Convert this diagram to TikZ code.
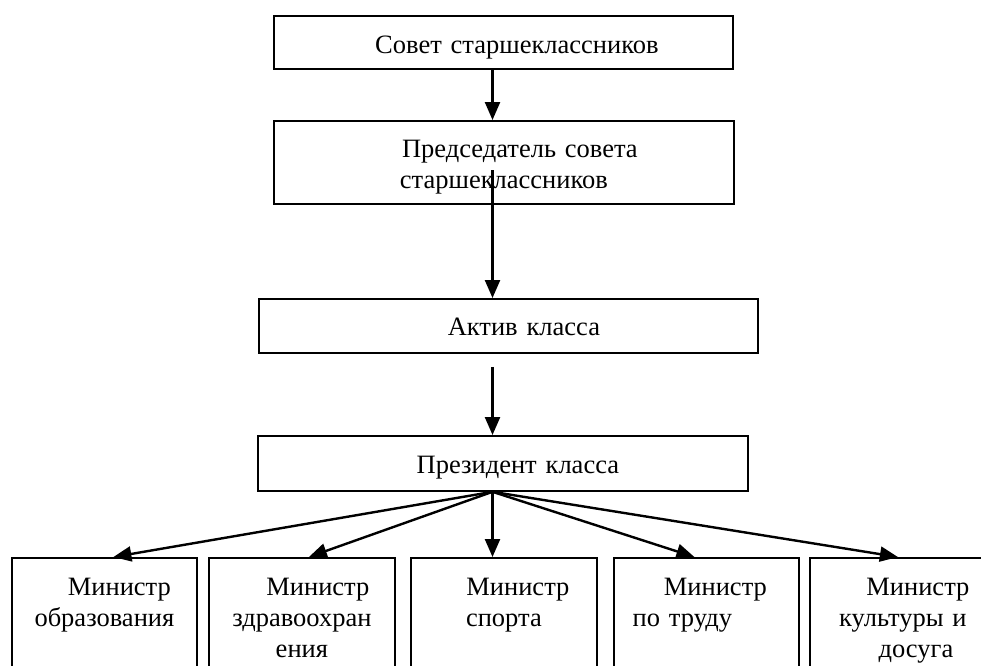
\documentclass[tikz,border=0pt]{standalone}
\usepackage{fontspec}
\setmainfont{Liberation Serif}
\usetikzlibrary{arrows.meta}

\tikzset{
  box/.style={draw, line width=1.8pt, anchor=north west, inner sep=0pt},
  boxtext/.style={font=\fontsize{26.5}{31}\selectfont, align=center, anchor=base, inner sep=0pt},
  arr/.style={line width=2.4pt, -{Triangle[length=18pt,width=15pt]}}
}

\begin{document}
\begin{tikzpicture}[x=1pt,y=-1pt]
		\useasboundingbox (0,0) rectangle (981,665);
		\clip (0,0) rectangle (981,665);
		\coordinate (spine) at (492.5,0);
		% upper chain
		\node[box, minimum width=459pt, minimum height=53pt] (sovet) at (273,15) {};
		\node[box, minimum width=460pt, minimum height=83pt] (predsed) at (273,120) {};
		\node[box, minimum width=499pt, minimum height=54pt] (aktiv) at (258,298) {};
		\node[box, minimum width=490pt, minimum height=55pt] (prezident) at (257,435) {};
		\node[boxtext, text width=440pt] (sovettxt) at ([yshift=-38]sovet.north) {\hspace*{27pt}Совет старшеклассников};
		\node[boxtext, text width=440pt] (predsedtxt) at ([yshift=-37]predsed.north) {\hspace*{32pt}Председатель совета\\старшеклассников};
		\node[boxtext, text width=480pt] (aktivtxt) at ([yshift=-37]aktiv.north) {\hspace*{31pt}Актив класса};
		\node[boxtext, text width=470pt] (prezidenttxt) at ([yshift=-38]prezident.north) {\hspace*{30pt}Президент класса};
		% ministers
		\node[box, minimum width=185pt, minimum height=150pt] (min1) at (11,557) {};
		\node[box, minimum width=186pt, minimum height=150pt] (min2) at (208,557) {};
		\node[box, minimum width=186pt, minimum height=150pt] (min3) at (410,557) {};
		\node[box, minimum width=185pt, minimum height=150pt] (min4) at (613,557) {};
		\node[box, minimum width=186pt, minimum height=150pt] (min5) at (809,557) {};
		\node[boxtext, text width=180pt] (min1txt) at ([yshift=-38]min1.north) {\hspace*{30pt}Министр\\образования};
		\node[boxtext, text width=180pt] (min2txt) at ([yshift=-38]min2.north) {\hspace*{32pt}Министр\\здравоохран\\ения};
		\node[boxtext, text width=180pt] (min3txt) at ([yshift=-38]min3.north) {\hspace*{28pt}Министр\\спорта};
		\node[boxtext, text width=180pt] (min4txt) at ([yshift=-38]min4.north) {\hspace*{18pt}Министр\\по труду\hspace*{48pt}\mbox{}};
		\node[boxtext, text width=180pt] (min5txt) at ([yshift=-38]min5.north) {\hspace*{30pt}Министр\\культуры и\\\hspace*{26pt}досуга};
		% arrows
		\draw[arr] (sovet.south -| spine) -- (predsed.north -| spine);
		\draw[arr] ([yshift=-50]predsed.north -| spine) -- (aktiv.north -| spine);
		\draw[arr] ([yshift=-13]aktiv.south -| spine) -- (prezident.north -| spine);
		\draw[arr] (prezident.south -| spine) -- ([xshift=9]min1.north);
		\draw[arr] (prezident.south -| spine) -- ([xshift=7]min2.north);
		\draw[arr] (prezident.south -| spine) -- (min3.north -| spine);
		\draw[arr] (prezident.south -| spine) -- ([xshift=-12]min4.north);
		\draw[arr] (prezident.south -| spine) -- ([xshift=-5]min5.north);
\end{tikzpicture}
\end{document}
